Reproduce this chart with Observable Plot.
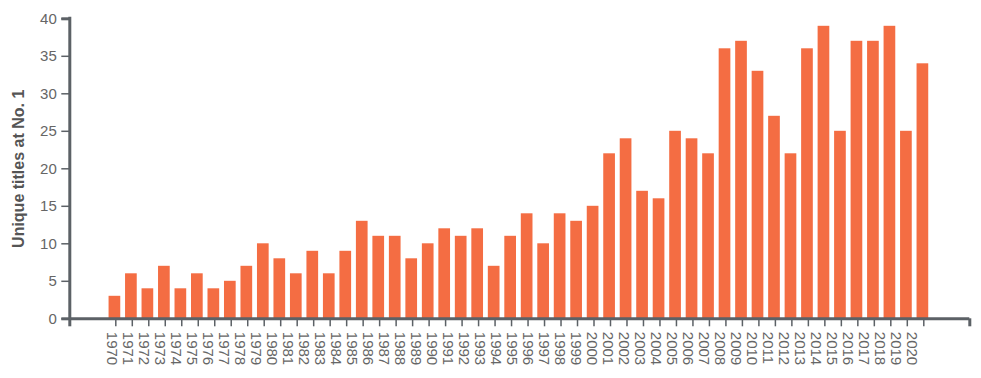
<!DOCTYPE html>
<html>
<head>
<meta charset="utf-8">
<script src="https://cdn.jsdelivr.net/npm/d3@7"></script>
<script src="https://cdn.jsdelivr.net/npm/@observablehq/plot@0.6"></script>
<style>
  html, body { margin: 0; padding: 0; background: #ffffff; }
  #chart { position: relative; width: 981px; height: 378px; }
  #chart svg { position: absolute; left: 0; top: 0; }
</style>
</head>
<body>
<div id="chart"></div>
<script>
// ---- data ----
const barYears = [1970,1971,1972,1973,1974,1975,1976,1977,1978,1979,
                  1980,1981,1982,1983,1984,1985,1986,1987,1988,1989,
                  1990,1991,1992,1993,1994,1995,1996,1997,1998,1999,
                  2000,2001,2002,2003,2004,2005,2006,2007,2008,2009,
                  2010,2011,2012,2013,2014,2015,2016,2017,2018,2019];
const counts = [3,6,4,7,4,6,4,5,7,10,
                8,6,9,6,9,13,11,11,8,10,
                12,11,12,7,11,14,10,14,13,15,
                22,24,17,16,25,24,22,36,37,33,
                27,22,36,39,25,37,37,39,25,34];
const xTickLabels = ["1970","1971","1972","1973","1974","1975","1976","1977","1978","1979",
                     "1980","1981","1982","1983","1984","1985","1986","1987","1988","1989",
                     "1990","1991","1992","1993","1994","1995","1996","1997","1998","1999",
                     "2000","2001","2002","2003","2004","2005","2006","2007","2008","2009",
                     "2010","2011","2012","2013","2014","2015","2016","2017","2018","2019","2020"];
const yTicks = [0,5,10,15,20,25,30,35,40];
const yTitle = "Unique titles at No. 1";

// ---- layout / style ----
const W = 981, H = 378;
const margins = {marginTop: 18.3, marginRight: 11.7, marginBottom: 59.7, marginLeft: 69.3};
const xDomain = [1967.21, 2021.79];
const barColor = "#f46d43";
const axisColor = "#5c6166";
const labelColor = "#666666";
const font = "'Liberation Sans', Arial, Helvetica, sans-serif";

const data = barYears.map((year, i) => ({year, count: counts[i]}));

const main = Plot.plot({
  width: W, height: H, ...margins,
  style: {fontFamily: font, fontSize: "15px", background: "transparent", overflow: "visible"},
  x: {type: "linear", domain: xDomain},
  y: {domain: [0, 40]},
  marks: [
    Plot.rectY(data, {x1: d => d.year - 0.5, x2: d => d.year + 0.5, y: "count",
                      fill: barColor, insetLeft: 1.5, insetRight: 3.3}),
    Plot.axisY({ticks: yTicks, tickSize: 8, tickPadding: 5, strokeWidth: 1.5,
                stroke: axisColor, fill: labelColor, label: null}),
    Plot.axisY({ticks: [0, 40], tickSize: 8, strokeWidth: 3, stroke: axisColor,
                tickFormat: () => "", label: null}),
    Plot.axisX({ticks: barYears, tickSize: 8, strokeWidth: 1.5, stroke: axisColor,
                tickFormat: () => "", label: null}),
    Plot.axisX({ticks: xDomain, tickSize: 8, strokeWidth: 3, stroke: axisColor,
                tickFormat: () => "", label: null}),
    Plot.ruleY([0], {stroke: axisColor, strokeWidth: 3}),
    Plot.ruleX([xDomain[0]], {y1: 0, y2: 40, stroke: axisColor, strokeWidth: 3, strokeLinecap: "square"}),
    Plot.text([yTitle], {frameAnchor: "left", rotate: -90, textAnchor: "middle", lineAnchor: "middle",
                         dx: -51.3, fontSize: 16, fontWeight: "bold", fill: "#555555"})
  ]
});

const labels = Plot.plot({
  width: W, height: H, ...margins,
  style: {fontFamily: font, fontSize: "15px", background: "transparent", overflow: "visible"},
  x: {type: "point", domain: xTickLabels, range: [104.5, 917.5], padding: 0, axis: null},
  marks: [
    Plot.text(xTickLabels, {x: d => d, frameAnchor: "bottom", rotate: 90, textAnchor: "start",
                            lineAnchor: "middle", dy: 13, fill: labelColor})
  ]
});

const chart = document.getElementById("chart");
chart.appendChild(main);
chart.appendChild(labels);
</script>
</body>
</html>
